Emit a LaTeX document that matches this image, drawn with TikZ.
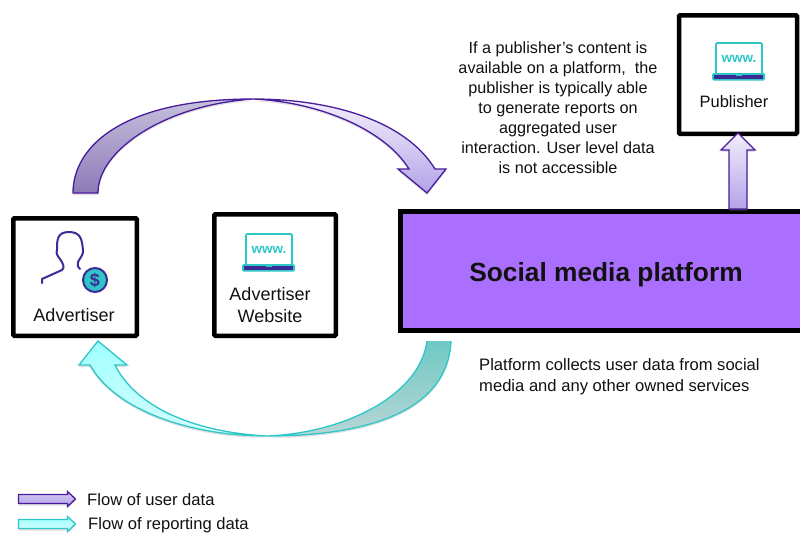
\documentclass[tikz,border=0pt]{standalone}
\usepackage{fontspec}
\setmainfont{Liberation Sans}
\usetikzlibrary{shadows,calc}
\definecolor{txt}{HTML}{111111}
\definecolor{purp}{HTML}{4A1C9C}
\definecolor{iconp}{HTML}{3D2B96}
\definecolor{teal}{HTML}{2EC6C6}
\definecolor{plat}{HTML}{AB6FFF}
\definecolor{pa}{HTML}{F2EEFC}
\definecolor{pb}{HTML}{D5CBF2}
\definecolor{pc}{HTML}{B3A2E8}
\definecolor{pd}{HTML}{C6C0DC}
\definecolor{pe}{HTML}{8C7AB8}
\definecolor{ta}{HTML}{6FC9C5}
\definecolor{tb}{HTML}{B8D6D6}
\definecolor{tc}{HTML}{A0FFFF}
\definecolor{td}{HTML}{D4FFFF}
\tikzset{
  boxed/.style={draw=black,line width=4.5pt,rounded corners=1pt,fill=white},
  softshadow/.style={drop shadow={opacity=.25,shadow xshift=0pt,shadow yshift=-2pt}},
  lbl/.style={font=\fontsize{18}{22}\selectfont,text=txt,align=center,inner sep=0pt},
  body/.style={font=\fontsize{16.2}{20}\selectfont,text=txt,inner sep=0pt},
  pline/.style={draw=purp,line width=1.3pt,line join=miter},
  tline/.style={draw=teal,line width=1.3pt,line join=miter},
  laptop/.pic={
    \draw[teal,line width=1.7pt,rounded corners=1pt] (0,30)--(0,0)--(46,0)--(46,30);
    \node[inner sep=0pt,text=teal,font=\bfseries\fontsize{13.5}{13.5}\selectfont] (-www) at (23,15.5) {www.};
    \fill[teal,rounded corners=1.5pt] (-4,30) rectangle (49,37.5);
    \fill[iconp] (-2,32.2) rectangle (47,35.5);
    \fill[teal] (20,30) rectangle (26,33);
  }
}
\begin{document}
\begin{tikzpicture}[x=1pt,y=-1pt]
\useasboundingbox (0,0) rectangle (800,533);
\clip (0,0) rectangle (800,533);
\fill[white] (0,0) rectangle (800,533);

% top arc arrow
\fill[white,softshadow] (73,193) .. controls (73,145) and (125,99) .. (253,99) .. controls (330,99) and (405,120) .. (435,169) -- (446,169) -- (427,193) -- (398,169) -- (409,169) .. controls (385,130) and (320,102) .. (253,99) .. controls (165,105) and (98,150) .. (98,193) -- cycle;
\shade[top color=pa,bottom color=pc,middle color=pb]
  (253,99) .. controls (330,99) and (405,120) .. (435,169) -- (446,169) -- (427,193) -- (398,169) -- (409,169) .. controls (385,130) and (320,102) .. (253,99) -- cycle;
\shade[top color=pd,bottom color=pe]
  (73,193) .. controls (73,145) and (125,99) .. (253,99) .. controls (165,105) and (98,150) .. (98,193) -- cycle;
\draw[pline] (73,193) .. controls (73,145) and (125,99) .. (253,99) .. controls (330,99) and (405,120) .. (435,169) -- (446,169) -- (427,193) -- (398,169) -- (409,169) .. controls (385,130) and (320,102) .. (253,99) .. controls (165,105) and (98,150) .. (98,193) -- cycle;

% bottom arc arrow
\fill[white,softshadow] (451,341) .. controls (448,410) and (370,436) .. (267,436) .. controls (190,436) and (115,410) .. (90,365) -- (79,365) -- (98,341) -- (127,365) -- (115,365) .. controls (135,405) and (190,432) .. (267,436) .. controls (345,433) and (420,395) .. (427,341) -- cycle;
\shade[top color=ta,bottom color=tb]
  (451,341) .. controls (448,410) and (370,436) .. (267,436) .. controls (345,433) and (420,395) .. (427,341) -- cycle;
\shade[top color=tc,bottom color=td]
  (267,436) .. controls (190,436) and (115,410) .. (90,365) -- (79,365) -- (98,341) -- (127,365) -- (115,365) .. controls (135,405) and (190,432) .. (267,436) -- cycle;
\draw[tline] (451,341) .. controls (448,410) and (370,436) .. (267,436) .. controls (190,436) and (115,410) .. (90,365) -- (79,365) -- (98,341) -- (127,365) -- (115,365) .. controls (135,405) and (190,432) .. (267,436) .. controls (345,433) and (420,395) .. (427,341);

% boxes
\node[boxed,minimum width=123.5pt,minimum height=117.5pt,inner sep=0pt] (adv) at (75,277) {};
\node[boxed,minimum width=121.5pt,minimum height=121.5pt,inner sep=0pt] (web) at (275,275) {};
\node[boxed,minimum width=118pt,minimum height=118.5pt,inner sep=0pt] (pub) at (738,74.5) {};
\draw[draw=black,line width=4.5pt,fill=plat] (820,211.5) -- (400.5,211.5) -- (400.5,330.5) -- (820,330.5);
\node[inner sep=0pt,font=\bfseries\fontsize{26.3}{30}\selectfont,text=txt] (plt) at (606,275) {Social media platform};

% up arrow
\shade[top color=pa,bottom color=pc,softshadow]
  (738,133) -- (755,150) -- (747,150) -- (747,209) -- (729,209) -- (729,150) -- (721,150) -- cycle;
\draw[pline] (738,133) -- (755,150) -- (747,150) -- (747,209) -- (729,209) -- (729,150) -- (721,150) -- cycle;

% icons
\pic (l1) at (246,234) {laptop};
\pic (l2) at (716,43) {laptop};
\draw[iconp,line width=2pt,line cap=round,line join=round]
  (42,283) -- (42,279) -- (62,270) .. controls (65,268) and (63,263) .. (60,259) .. controls (57,255) and (56,254) .. (57,250) .. controls (57,240) and (57,232) .. (69,232) .. controls (81,232) and (82,240) .. (83,250) .. controls (84,254) and (80,258) .. (78,262) .. controls (77,265) and (78,268) .. (80,269);
\node[circle,draw=iconp,fill=teal,line width=2pt,minimum size=24pt,inner sep=0pt,text=iconp,font=\bfseries\fontsize{18}{18}\selectfont] (dollar) at (95,280) {\$};

% labels
\node[lbl] (advt) at (74,315) {Advertiser};
\node[lbl] (webt) at (270,305.5) {Advertiser\\Website};
\node[lbl,font=\fontsize{16.5}{20}\selectfont] (pubt) at (734,101.5) {Publisher};
\node[body,align=center] (t1) at (558,107.5) {If a publisher’s content is\\available on a platform,\ \ the\\publisher is typically able\\to generate reports on\\aggregated user\\interaction. User level data\\is not accessible};
\node[body,align=left,anchor=north west,font=\fontsize{16.6}{21}\selectfont] (t2) at (479,358) {Platform collects user data from social\\media and any other owned services};

% legend
\shade[top color=pb,bottom color=pc,softshadow] (18.5,494.5) -- (67.5,494.5) -- (67.5,491.5) -- (75.5,499) -- (67.5,506.5) -- (67.5,503.5) -- (18.5,503.5) -- cycle;
\draw[pline] (18.5,494.5) -- (67.5,494.5) -- (67.5,491.5) -- (75.5,499) -- (67.5,506.5) -- (67.5,503.5) -- (18.5,503.5) -- cycle;
\shade[top color=tc,bottom color=td,softshadow] (18.5,519.5) -- (67.5,519.5) -- (67.5,516.5) -- (75.5,524) -- (67.5,531.5) -- (67.5,528.5) -- (18.5,528.5) -- cycle;
\draw[tline] (18.5,519.5) -- (67.5,519.5) -- (67.5,516.5) -- (75.5,524) -- (67.5,531.5) -- (67.5,528.5) -- (18.5,528.5) -- cycle;
\node[body,anchor=base west,font=\fontsize{16.6}{20}\selectfont] (leg1) at (87,505) {Flow of user data};
\node[body,anchor=base west,font=\fontsize{16.6}{20}\selectfont] (leg2) at (88,529.3) {Flow of reporting data};
\end{tikzpicture}
\end{document}
